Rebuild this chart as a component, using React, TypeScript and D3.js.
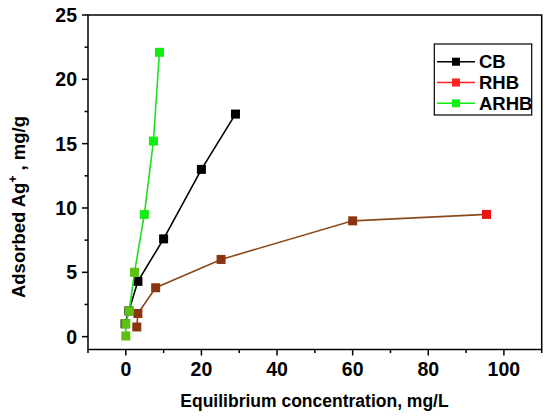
import * as d3 from 'd3';

// Series
const cbX = [-0.2, 0.8, 3.2, 10, 20, 29];
const cbY = [1.0, 2.0, 4.3, 7.6, 13.0, 17.3];
const rhbX = [2.9, 3.2, 7.9, 25.2, 60, 95.4];
const rhbY = [0.75, 1.8, 3.8, 6.0, 9.0, 9.5];
const arhbX = [0, 0, 0.9, 2.3, 4.9, 7.3, 8.9];
const arhbY = [0.05, 1.0, 2.0, 5.0, 9.5, 15.2, 22.1];

const xTicks = [0, 20, 40, 60, 80, 100];
const xMinor = [-10, 10, 30, 50, 70, 90, 110];
const yTicks = [0, 5, 10, 15, 20, 25];
const yMinor = [2.5, 7.5, 12.5, 17.5, 22.5];
const legendNames = ['CB', 'RHB', 'ARHB'];

const W = 550;
const H = 417;
const left = 88;
const right = 541.7;
const top = 15;
const bottom = 349.5;
const font = 'Liberation Sans, Arial, sans-serif';

export default function App() {
    const x = d3.scaleLinear().domain([-10, 110]).range([left, right]);
    const y = d3.scaleLinear().domain([-1, 25]).range([bottom, top]);

    const zip = (xs: number[], ys: number[]) => xs.map((v, i) => [v, ys[i]] as [number, number]);
    const line = d3
        .line<[number, number]>()
        .x((d) => x(d[0]))
        .y((d) => y(d[1]));

    const cb = zip(cbX, cbY);
    const rhb = zip(rhbX, rhbY);
    const arhb = zip(arhbX, arhbY);
    const ms = 9;

    const series = [
        { name: legendNames[0], pts: cb, line: '#000', fill: (i: number) => '#000' },
        { name: legendNames[1], pts: rhb, line: '#8b4a1e', fill: (i: number) => (i === rhb.length - 1 ? '#ee1111' : '#8b3410') },
        { name: legendNames[2], pts: arhb, line: '#22dd22', fill: (i: number) => (i < 4 ? '#5cc010' : '#11ee11') },
    ];
    const legendColors = ['#000', '#ff2020', '#11ee11'];

    return (
        <svg width={W} height={H} style={{ position: 'absolute', left: 0, top: 0, background: '#fff' }}>
            {/* series */}
            {series.map((s) => (
                <g key={s.name}>
                    <path d={line(s.pts) ?? ''} fill="none" stroke={s.line} strokeWidth={1.6} />
                    {s.pts.map((p, i) => (
                        <rect key={i} x={x(p[0]) - ms / 2} y={y(p[1]) - ms / 2} width={ms} height={ms} fill={s.fill(i)} />
                    ))}
                </g>
            ))}

            {/* frame */}
            <rect x={left} y={top} width={right - left} height={bottom - top} fill="none" stroke="#000" strokeWidth={1.5} />

            {/* x axis */}
            {xTicks.map((t) => (
                <g key={t}>
                    <line x1={x(t)} x2={x(t)} y1={bottom} y2={bottom + 6} stroke="#000" strokeWidth={1.5} />
                    <text x={x(t)} y={376} textAnchor="middle" fontFamily={font} fontWeight="bold" fontSize={19.5}>
                        {t}
                    </text>
                </g>
            ))}
            {xMinor.map((t) => (
                <line key={t} x1={x(t)} x2={x(t)} y1={bottom} y2={bottom + 3.5} stroke="#000" strokeWidth={1.5} />
            ))}

            {/* y axis */}
            {yTicks.map((t) => (
                <g key={t}>
                    <line x1={left} x2={left - 6} y1={y(t)} y2={y(t)} stroke="#000" strokeWidth={1.5} />
                    <text x={77} y={y(t) + 7} textAnchor="end" fontFamily={font} fontWeight="bold" fontSize={19.5}>
                        {t}
                    </text>
                </g>
            ))}
            {yMinor.map((t) => (
                <line key={t} x1={left} x2={left - 3.5} y1={y(t)} y2={y(t)} stroke="#000" strokeWidth={1.5} />
            ))}

            {/* axis titles */}
            <text x={314.5} y={407} textAnchor="middle" fontFamily={font} fontWeight="bold" fontSize={17.5}>
                Equilibrium concentration, mg/L
            </text>
            <text
                transform="translate(25, 207) rotate(-90)"
                textAnchor="middle"
                fontFamily={font}
                fontWeight="bold"
                fontSize={18.5}
            >
                Adsorbed Ag
                <tspan fontSize={12} dy={-8}>+</tspan>
                <tspan dy={8}> , mg/g</tspan>
            </text>

            {/* legend */}
            <rect x={434.3} y={44} width={97.4} height={71} fill="#fff" stroke="#000" strokeWidth={1.2} />
            {legendNames.map((n, i) => {
                const ly = 61.7 + i * 20.8;
                return (
                    <g key={n}>
                        <line x1={437} x2={475} y1={ly} y2={ly} stroke={legendColors[i]} strokeWidth={1.5} />
                        <rect x={456 - 4} y={ly - 4} width={8} height={8} fill={legendColors[i]} />
                        <text x={479} y={ly + 6.5} fontFamily={font} fontWeight="bold" fontSize={18.5}>
                            {n}
                        </text>
                    </g>
                );
            })}
        </svg>
    );
}
